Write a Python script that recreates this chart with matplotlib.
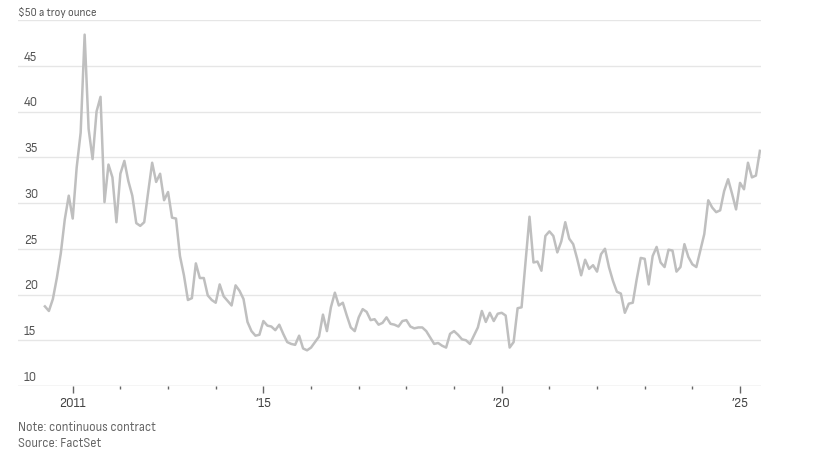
import numpy as np
import matplotlib
matplotlib.use('Agg')
import matplotlib.pyplot as plt

# Monthly silver price, $ a troy ounce, Jun 2010 - Jun 2025
start_year = 2010
start_month = 6
prices = [
    # 2010 (Jun-Dec)
    18.7, 18.2, 19.5, 21.8, 24.5, 28.2, 30.8,
    # 2011
    28.3, 33.9, 37.7, 48.4, 38.1, 34.8, 40.0, 41.6, 30.1, 34.2, 32.8, 27.9,
    # 2012
    33.2, 34.6, 32.4, 30.8, 27.8, 27.5, 27.9, 31.2, 34.4, 32.3, 33.2, 30.3,
    # 2013
    31.2, 28.4, 28.3, 24.2, 22.1, 19.4, 19.6, 23.4, 21.8, 21.8, 19.9, 19.4,
    # 2014
    19.1, 21.1, 19.8, 19.3, 18.8, 21.0, 20.4, 19.5, 17.0, 16.0, 15.5, 15.6,
    # 2015
    17.1, 16.6, 16.5, 16.1, 16.7, 15.7, 14.8, 14.6, 14.5, 15.5, 14.1, 13.9,
    # 2016
    14.2, 14.8, 15.4, 17.8, 16.0, 18.6, 20.2, 18.8, 19.1, 17.7, 16.4, 16.0,
    # 2017
    17.5, 18.4, 18.1, 17.2, 17.3, 16.7, 16.9, 17.5, 16.8, 16.7, 16.5, 17.1,
    # 2018
    17.2, 16.5, 16.3, 16.4, 16.4, 16.0, 15.3, 14.6, 14.7, 14.4, 14.2, 15.7,
    # 2019
    16.0, 15.6, 15.1, 15.0, 14.6, 15.5, 16.4, 18.2, 17.0, 18.0, 17.1, 17.9,
    # 2020
    18.0, 17.7, 14.2, 14.8, 18.5, 18.6, 23.5, 28.5, 23.5, 23.6, 22.6, 26.4,
    # 2021
    26.9, 26.4, 24.6, 25.8, 27.9, 26.1, 25.5, 23.9, 22.1, 23.8, 22.8, 23.2,
    # 2022
    22.5, 24.4, 25.0, 23.0, 21.5, 20.3, 20.1, 18.0, 19.0, 19.1, 21.7, 24.0,
    # 2023
    23.9, 21.1, 24.2, 25.2, 23.5, 23.0, 24.9, 24.8, 22.5, 23.0, 25.5, 24.1,
    # 2024
    23.3, 23.0, 24.8, 26.6, 30.3, 29.5, 29.0, 29.2, 31.3, 32.6, 31.0, 29.3,
    # 2025 (Jan-Jun)
    32.2, 31.5, 34.4, 32.8, 33.0, 35.7,
]

y_ticks = [10, 15, 20, 25, 30, 35, 40, 45, 50]
y_labels = ['10', '15', '20', '25', '30', '35', '40', '45', '$50 a troy ounce']
year_ticks = list(range(2011, 2026))
year_labels = {2011: '2011', 2015: '\u201915', 2020: '\u201920', 2025: '\u201925'}

# decimal-year x positions, one per month
x = start_year + (start_month - 1) / 12 + np.arange(len(prices)) / 12

plt.rcParams['font.family'] = ['Sofia Sans Semi Condensed', 'DejaVu Sans']

fig = plt.figure(figsize=(8.15, 4.64), dpi=100)
ax = fig.add_axes([18 / 815, 1 - 387 / 464, (761 - 18) / 815, (387 - 21) / 464])

ax.set_xlim(2009.852, 2025.44)
ax.set_ylim(10, 50)

for v in y_ticks:
    ax.axhline(v, color='#cfcfcf' if v == 10 else '#e6e6e6', lw=1.0, zorder=1)

ax.plot(x, prices, color='#bfbfbf', lw=1.8, solid_joinstyle='round', zorder=3)

# y labels sit just above their gridline
for v, lab in zip(y_ticks, y_labels):
    top = v == 50
    ax.text(0.0 if top else 6 / 743, v + 0.35, lab, transform=ax.get_yaxis_transform(),
            ha='left', va='bottom', fontsize=8.2 if top else 9.5, color='#555555')

for s in ax.spines.values():
    s.set_visible(False)
ax.set_yticks([])

ax.set_xticks(year_ticks)
ax.set_xticklabels([year_labels.get(y, '') for y in year_ticks], fontsize=10, color='#444444')
ax.tick_params(axis='x', length=2, width=1, color='#666666', pad=5)
for tick, y in zip(ax.xaxis.get_major_ticks(), year_ticks):
    if y in year_labels:
        tick.tick1line.set_markersize(5)

fig.text(18 / 815, 1 - 428 / 464, 'Note: continuous contract', fontsize=9.2,
         color='#666666', ha='left', va='center')
fig.text(18 / 815, 1 - 444 / 464, 'Source: FactSet', fontsize=9.2,
         color='#666666', ha='left', va='center')

fig.savefig('out.png', dpi=100, facecolor='white')
